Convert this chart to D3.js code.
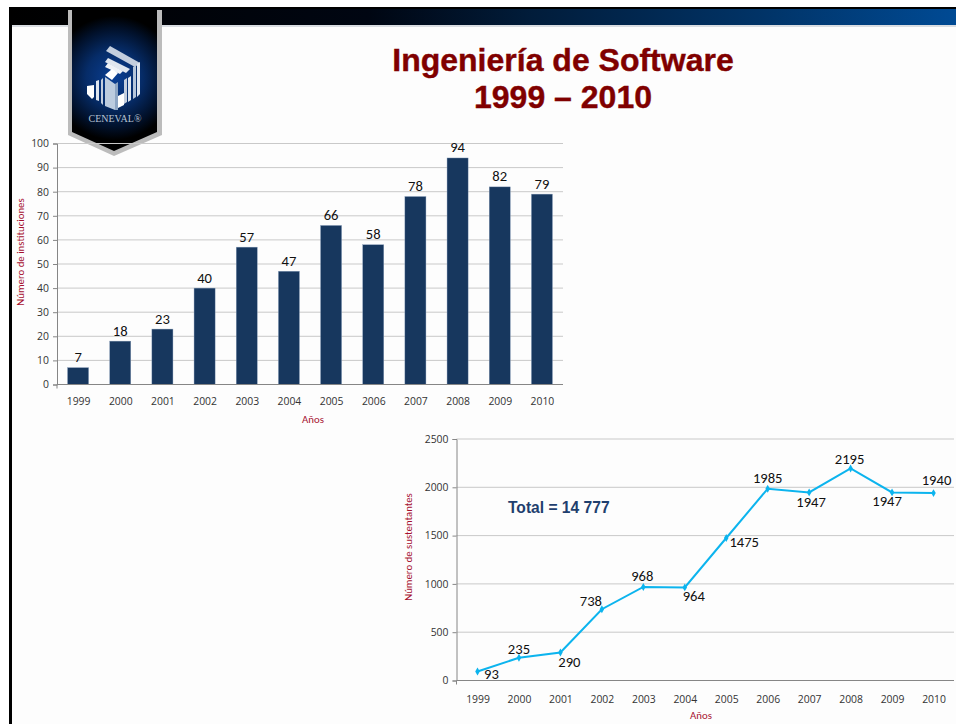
<!DOCTYPE html>
<html><head><meta charset="utf-8">
<script src="https://cdnjs.cloudflare.com/ajax/libs/d3/7.8.5/d3.min.js"></script>
<style>html,body{margin:0;padding:0;background:#fff}svg{display:block}text{font-family:Carlito,"Open Sans","Liberation Sans",sans-serif}</style>
</head><body><svg id="c" width="956" height="724"></svg>
<script>
const years = ["1999","2000","2001","2002","2003","2004","2005","2006","2007","2008","2009","2010"];
const institutions = [7,18,23,40,57,47,66,58,78,94,82,79];
const examinees = [93,235,290,738,968,964,1475,1985,1947,2195,1947,1940];
const titleLines = ["Ingeniería de Software","1999 – 2010"];
const totalLabel = "Total = 14 777";

const svg = d3.select("#c");
const defs = svg.append("defs");
const grad = defs.append("linearGradient").attr("id","bar");
[[0,"#000"],[.38,"#000612"],[.55,"#011c3a"],[.8,"#013468"],[1,"#004a94"]].forEach(s=>grad.append("stop").attr("offset",s[0]).attr("stop-color",s[1]));
const rg = defs.append("radialGradient").attr("id","logo").attr("gradientUnits","userSpaceOnUse").attr("cx",114).attr("cy",78).attr("r",62);
[[0,"#0a3f94"],[.45,"#062c68"],[.8,"#011029"],[1,"#000"]].forEach(s=>rg.append("stop").attr("offset",s[0]).attr("stop-color",s[1]));

svg.append("rect").attr("x",9).attr("y",8).attr("width",947).attr("height",716).attr("fill","#fdfdfd");
svg.append("rect").attr("x",9).attr("y",25).attr("width",947).attr("height",2).attr("fill","#d9dde2");
svg.append("rect").attr("x",9).attr("y",7).attr("width",947).attr("height",18).attr("fill","url(#bar)");
svg.append("rect").attr("x",9).attr("y",7).attr("width",947).attr("height",2).attr("fill","#000");
svg.append("rect").attr("x",9).attr("y",7).attr("width",3).attr("height",717).attr("fill","#000");

// logo
svg.append("path").attr("d","M68 10H162V135L114 156L68 135Z").attr("fill","#bcbcbc");
svg.append("path").attr("d","M72 10H157V132L114 151L72 132Z").attr("fill","url(#logo)");
const lg = svg.append("g");
[["M110 46L140 63L135 67L106 51Z","#c3cede"],["M108 58L130 69L126 73L105 62Z","#dfe6ef"],["M108 63L123 71L120 74L105 67Z","#eef2f7"],
 ["M105 75L112 69L118 73L112 80Z","#fff"],
 ["M105 77L115 84V110L105 106Z","#bcccdf"],["M115 84L118 82V110L115 110Z","#8ea6c4"],
 ["M87 86L94 85V97L92 99L87 94Z","#fff"],["M96 81L99 80V101L96 100Z","#dfe6ef"],["M101 80L103 78V105L101 103Z","#c3cede"],
 ["M118 96L124 93L124 105L118 108Z","#fff"],["M124 80L127 78V102L124 104Z","#c3cede"],["M128 78L131 76V100L128 102Z","#dfe6ef"],
 ["M133 67L136 65V97L133 99Z","#b6c6da"],["M137 64L140 62V94L137 97Z","#dfe6ef"]]
 .forEach(p=>lg.append("path").attr("d",p[0]).attr("fill",p[1]));
svg.append("text").attr("x",115).attr("y",122).attr("text-anchor","middle").attr("fill","#b5c2d2").style("font-family","Liberation Serif").style("font-size","10px").text("CENEVAL®");

// title
titleLines.forEach((t,i)=>svg.append("text").attr("x",563).attr("y",[71,108][i]).attr("text-anchor","middle")
  .attr("fill","#800000").attr("stroke","#800000").attr("stroke-width",.4).style("font-family","Liberation Sans").style("font-weight","bold").style("font-size","32px").text(t));

const grid="#c9c9c9", axisC="#868686", axisT="#333";
function styleAxis(g){
  g.selectAll("path,line").attr("stroke",axisC);
  g.selectAll("text").attr("fill",axisT).style("font-family","Open Sans").style("font-size","10.4px");
}
function axisTitle(x,y,t,rot){
  svg.append("text").attr("transform",`translate(${x},${y})`+(rot?" rotate(-90)":"")).attr("text-anchor","middle")
   .attr("fill","#a6102f").style("font-size","10.8px").text(t);
}
const lab = "14.6px";

// bar chart
const x1 = d3.scaleBand().domain(years).range([57,563]).paddingInner(.5).paddingOuter(.25);
const y1 = d3.scaleLinear().domain([0,100]).range([384.5,143.5]);
svg.append("g").selectAll("line").data(y1.ticks(10).filter(d=>d>0)).join("line")
  .attr("x1",57).attr("x2",563).attr("y1",d=>y1(d)).attr("y2",d=>y1(d)).attr("stroke",grid);
svg.selectAll(".b").data(institutions).join("rect").attr("class","b")
  .attr("x",(d,i)=>x1(years[i])).attr("width",x1.bandwidth()).attr("y",d=>y1(d)).attr("height",d=>y1(0)-y1(d))
  .attr("fill","#17375e").attr("stroke","#8ea3be").attr("stroke-width",.4);
svg.append("g").attr("transform","translate(57,0)").call(d3.axisLeft(y1).ticks(10).tickSize(4).tickPadding(4)).call(styleAxis);
const xa1 = d3.axisBottom(d3.scalePoint().domain(years).range([x1(years[0])+x1.bandwidth()/2,x1(years[11])+x1.bandwidth()/2])).tickSize(0).tickPadding(13.5);
svg.append("g").attr("transform","translate(0,384.5)").call(xa1).call(g=>{g.select("path").remove();styleAxis(g)});
svg.append("path").attr("d","M57 388.5V384.5H563").attr("fill","none").attr("stroke",axisC);
svg.selectAll(".bl").data(institutions).join("text").attr("class","bl")
  .attr("x",(d,i)=>x1(years[i])+x1.bandwidth()/2).attr("y",d=>y1(d)-5.5).attr("text-anchor","middle")
  .attr("fill","#111").style("font-size",lab).text(d=>d);
axisTitle(24,252,"Número de instituciones",true);
axisTitle(313,423,"Años",false);

// line chart
const x2 = d3.scalePoint().domain(years).range([477.5,933.5]);
const y2 = d3.scaleLinear().domain([0,2500]).range([680.5,439]);
svg.append("g").selectAll("line").data(y2.ticks(5).filter(d=>d>0)).join("line")
  .attr("x1",456.5).attr("x2",954).attr("y1",d=>y2(d)).attr("y2",d=>y2(d)).attr("stroke",grid);
svg.append("g").attr("transform","translate(456.5,0)").call(d3.axisLeft(y2).ticks(5).tickFormat(d3.format("d")).tickSize(4).tickPadding(4)).call(styleAxis);
svg.append("g").attr("transform","translate(0,680.5)").call(d3.axisBottom(x2).tickSize(0).tickPadding(15)).call(g=>{g.select("path").remove();styleAxis(g)});
svg.append("path").attr("d","M456.5 684.5V680.5H954").attr("fill","none").attr("stroke",axisC);
const line = d3.line().x((d,i)=>x2(years[i])).y(d=>y2(d));
svg.append("path").attr("d",line(examinees)).attr("fill","none").attr("stroke","#0cb4ee").attr("stroke-width",2);
svg.selectAll(".p").data(examinees).join("path").attr("class","p")
  .attr("transform",(d,i)=>`translate(${x2(years[i])},${y2(d)})`).attr("d",d3.symbol(d3.symbolDiamond,18)).attr("fill","#0cb4ee");
// label nudges from each point, by year
const labelNudge = [[14,7],[0,-4],[9,15],[-11,-3],[-1,-6],[9,14],[18,9],[0,-6],[2,15],[-1,-4],[-5,14],[3,-8]];
svg.selectAll(".pl").data(examinees).join("text").attr("class","pl")
  .attr("x",(d,i)=>x2(years[i])+labelNudge[i][0]).attr("y",(d,i)=>y2(d)+labelNudge[i][1])
  .attr("text-anchor","middle").attr("fill","#111").style("font-size",lab).text(d=>d);
axisTitle(412,547,"Número de sustentantes",true);
axisTitle(701,719,"Años",false);
svg.append("text").attr("x",508).attr("y",513).attr("fill","#1f3f6e").style("font-family","Liberation Sans").style("font-weight","bold").style("font-size","15.6px").text(totalLabel);
</script></body></html>
